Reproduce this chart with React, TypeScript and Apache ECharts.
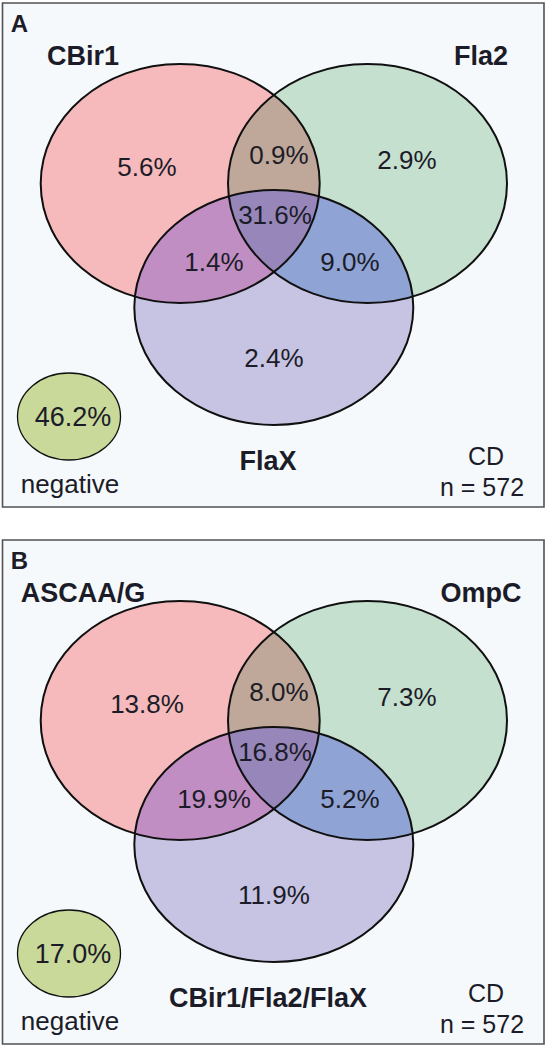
import React, { useEffect, useRef } from "react";
import * as echarts from "echarts";

// ---------- data ----------
const panelLetters = ["A", "B"];
const setNamesA = ["CBir1", "Fla2", "FlaX"];
const setNamesB = ["ASCAA/G", "OmpC", "CBir1/Fla2/FlaX"];
// region order: only set1, only set2, only set3, 1∩2, 1∩3, 2∩3, 1∩2∩3
const regionPctA = [5.6, 2.9, 2.4, 0.9, 1.4, 9.0, 31.6];
const regionPctB = [13.8, 7.3, 11.9, 8.0, 19.9, 5.2, 16.8];
const negativePctA = 46.2;
const negativePctB = 17.0;
const cohortLabel = "CD";
const sampleSize = 572;
const negativeLabel = "negative";

// ---------- layout ----------
const W = 547;
const H = 1050;
const PANEL_OFFSETS = [0, 537];
const PANEL_RECT = { x: 2.5, y: 3, width: 541.5, height: 504 };
type Ell = { cx: number; cy: number; rx: number; ry: number };
const ELLIPSES: Ell[] = [
  { cx: 180.2, cy: 183.5, rx: 139.5, ry: 119.5 },
  { cx: 367.5, cy: 183.5, rx: 139.5, ry: 119.5 },
  { cx: 273.8, cy: 307.5, rx: 139.5, ry: 117.5 },
];
const NEG_ELLIPSE: Ell = { cx: 69, cy: 416.5, rx: 51.5, ry: 43.5 };
// label anchor for each region (same order as the region arrays)
const REGION_LABEL_POS = [
  [147, 167],
  [407, 160],
  [274, 358],
  [279, 155],
  [214, 262],
  [350, 262],
  [275, 215],
];
const SET_LABEL_POS = [
  [83, 56],
  [481, 56],
  [268, 461],
];
const NEG_VALUE_POS = [73, 417];
const NEG_LABEL_POS = [70, 484];
const CD_POS = [486, 456];
const N_POS = [482, 487];
const LETTER_POS = [19.5, 23];

// ---------- styles ----------
const FONT = "'Liberation Sans', Arial, sans-serif";
const BG = "#f5f9fc";
const BORDER = "#525252";
const OUTLINE = "#101010";
const TEXT = "#1c1c28";
const SINGLE_FILLS = ["#f6b9bc", "#c6e0cf", "#c6c3e3"];
const PAIR_FILLS: Record<string, string> = {
  "0-1": "#bfa899",
  "0-2": "#c08ec3",
  "1-2": "#8fa3d5",
};
const TRIPLE_FILL = "#9686b9";
const NEG_FILL = "#c8d99a";

function sampleEllipse(e: Ell, n = 900): number[][] {
  const pts: number[][] = [];
  for (let i = 0; i < n; i++) {
    const t = (2 * Math.PI * i) / n;
    pts.push([e.cx + e.rx * Math.cos(t), e.cy + e.ry * Math.sin(t)]);
  }
  return pts;
}
function insideEllipse(e: Ell, p: number[]): boolean {
  const dx = (p[0] - e.cx) / e.rx;
  const dy = (p[1] - e.cy) / e.ry;
  return dx * dx + dy * dy <= 1 + 1e-9;
}
// intersection of convex ellipses -> convex polygon
function intersectPolygon(es: Ell[]): number[][] {
  const pts: number[][] = [];
  es.forEach((e, i) => {
    sampleEllipse(e).forEach((p) => {
      if (es.every((o, j) => j === i || insideEllipse(o, p))) pts.push(p);
    });
  });
  let mx = 0;
  let my = 0;
  pts.forEach((p) => {
    mx += p[0];
    my += p[1];
  });
  mx /= pts.length;
  my /= pts.length;
  pts.sort(
    (a, b) => Math.atan2(a[1] - my, a[0] - mx) - Math.atan2(b[1] - my, b[0] - mx)
  );
  return pts;
}

const fmt = (v: number) => `${v.toFixed(1)}%`;

function buildPanel(
  idx: number,
  letter: string,
  names: string[],
  regions: number[],
  neg: number
): any[] {
  const oy = PANEL_OFFSETS[idx];
  const els: any[] = [];
  const shift = (e: Ell): Ell => ({ ...e, cy: e.cy + oy });
  const ells = ELLIPSES.map(shift);

  els.push({
    type: "rect",
    z: 0,
    shape: { ...PANEL_RECT, y: PANEL_RECT.y + oy },
    style: { fill: BG, stroke: BORDER, lineWidth: 1.6 },
  });

  ells.forEach((e, i) => {
    els.push({
      type: "ellipse",
      z: 1,
      shape: e,
      style: { fill: SINGLE_FILLS[i], stroke: null },
    });
  });
  [
    [0, 1],
    [0, 2],
    [1, 2],
  ].forEach(([a, b]) => {
    els.push({
      type: "polygon",
      z: 2,
      shape: { points: intersectPolygon([ells[a], ells[b]]) },
      style: { fill: PAIR_FILLS[`${a}-${b}`], stroke: null },
    });
  });
  els.push({
    type: "polygon",
    z: 3,
    shape: { points: intersectPolygon(ells) },
    style: { fill: TRIPLE_FILL, stroke: null },
  });
  ells.forEach((e) => {
    els.push({
      type: "ellipse",
      z: 4,
      shape: e,
      style: { fill: "none", stroke: OUTLINE, lineWidth: 2 },
    });
  });
  els.push({
    type: "ellipse",
    z: 4,
    shape: shift(NEG_ELLIPSE),
    style: { fill: NEG_FILL, stroke: OUTLINE, lineWidth: 1.3 },
  });

  const text = (
    str: string,
    pos: number[],
    font: string,
    align = "center"
  ) => ({
    type: "text",
    z: 5,
    style: {
      text: str,
      x: pos[0],
      y: pos[1] + oy,
      font,
      fill: TEXT,
      textAlign: align,
      textVerticalAlign: "middle",
    },
  });

  regions.forEach((v, i) => {
    els.push(text(fmt(v), REGION_LABEL_POS[i], `26px ${FONT}`));
  });
  names.forEach((n, i) => {
    els.push(text(n, SET_LABEL_POS[i], `bold 27px ${FONT}`));
  });
  els.push(text(fmt(neg), NEG_VALUE_POS, `27px ${FONT}`));
  els.push(text(negativeLabel, NEG_LABEL_POS, `26px ${FONT}`));
  els.push(text(cohortLabel, CD_POS, `25px ${FONT}`));
  els.push(text(`n = ${sampleSize}`, N_POS, `25px ${FONT}`));
  els.push(text(letter, LETTER_POS, `bold 24px ${FONT}`));
  return els;
}

export default function App() {
  const ref = useRef<HTMLDivElement>(null);
  useEffect(() => {
    if (!ref.current) return;
    const chart = echarts.init(ref.current, null, { renderer: "svg" });
    const elements = [
      ...buildPanel(0, panelLetters[0], setNamesA, regionPctA, negativePctA),
      ...buildPanel(1, panelLetters[1], setNamesB, regionPctB, negativePctB),
    ];
    chart.setOption({
      animation: false,
      backgroundColor: "#ffffff",
      graphic: { elements },
    });
    return () => chart.dispose();
  }, []);
  return (
    <div
      ref={ref}
      style={{ position: "fixed", left: 0, top: 0, width: W, height: H }}
    />
  );
}
